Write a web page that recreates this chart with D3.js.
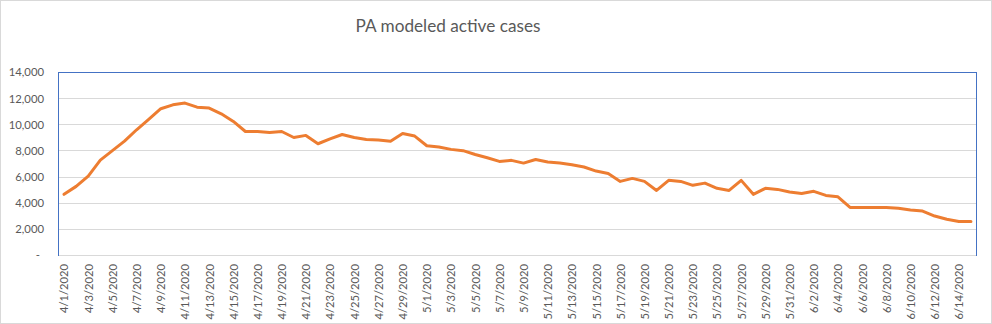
<!DOCTYPE html>
<html>
<head>
<meta charset="utf-8">
<script src="https://cdn.jsdelivr.net/npm/d3@7"></script>
<style>
  html, body { margin: 0; padding: 0; background: #fff; }
  svg { display: block; }
</style>
</head>
<body>
<svg id="chart" width="992" height="324"></svg>
<script>
const title = "PA modeled active cases";

const dates = [
  "4/1/2020","4/2/2020","4/3/2020","4/4/2020","4/5/2020","4/6/2020","4/7/2020","4/8/2020","4/9/2020","4/10/2020",
  "4/11/2020","4/12/2020","4/13/2020","4/14/2020","4/15/2020","4/16/2020","4/17/2020","4/18/2020","4/19/2020","4/20/2020",
  "4/21/2020","4/22/2020","4/23/2020","4/24/2020","4/25/2020","4/26/2020","4/27/2020","4/28/2020","4/29/2020","4/30/2020",
  "5/1/2020","5/2/2020","5/3/2020","5/4/2020","5/5/2020","5/6/2020","5/7/2020","5/8/2020","5/9/2020","5/10/2020",
  "5/11/2020","5/12/2020","5/13/2020","5/14/2020","5/15/2020","5/16/2020","5/17/2020","5/18/2020","5/19/2020","5/20/2020",
  "5/21/2020","5/22/2020","5/23/2020","5/24/2020","5/25/2020","5/26/2020","5/27/2020","5/28/2020","5/29/2020","5/30/2020",
  "5/31/2020","6/1/2020","6/2/2020","6/3/2020","6/4/2020","6/5/2020","6/6/2020","6/7/2020","6/8/2020","6/9/2020",
  "6/10/2020","6/11/2020","6/12/2020","6/13/2020","6/14/2020","6/15/2020"
];

const activeCases = [
  4640, 5250, 6040, 7260, 7980, 8710, 9580, 10370, 11190, 11490,
  11620, 11310, 11240, 10800, 10220, 9450, 9450, 9380, 9450, 8990,
  9150, 8510, 8890, 9220, 8990, 8840, 8790, 8710, 9300, 9100,
  8360, 8260, 8080, 7980, 7690, 7440, 7160, 7240, 7030, 7310,
  7110, 7030, 6900, 6730, 6420, 6240, 5630, 5860, 5630, 4940,
  5710, 5630, 5330, 5500, 5100, 4940, 5710, 4640, 5100, 5020,
  4820, 4710, 4870, 4560, 4450, 3640, 3640, 3640, 3640, 3570,
  3440, 3360, 2980, 2730, 2570, 2570
];

const yTicks = [0, 2000, 4000, 6000, 8000, 10000, 12000, 14000];
const yTickLabels = ["-", "2,000", "4,000", "6,000", "8,000", "10,000", "12,000", "14,000"];

const svg = d3.select("#chart");
const W = 992, H = 324;
const plot = { left: 58, top: 72, right: 977, bottom: 255 };
const font = "Lato, 'Open Sans', sans-serif";

// outer chart border
svg.append("rect")
  .attr("x", 0.5).attr("y", 0.5)
  .attr("width", W - 1).attr("height", H - 1)
  .attr("fill", "#fff").attr("stroke", "#d9d9d9").attr("stroke-width", 1);

const x = d3.scalePoint().domain(dates).range([plot.left, plot.right]).padding(0.5);
const y = d3.scaleLinear().domain([0, 14000]).range([plot.bottom, plot.top]);

// gridlines
svg.append("g").selectAll("line").data(yTicks.slice(1, -1)).join("line")
  .attr("x1", plot.left).attr("x2", plot.right)
  .attr("y1", d => Math.round(y(d)) + 0.5).attr("y2", d => Math.round(y(d)) + 0.5)
  .attr("stroke", "#d9d9d9").attr("stroke-width", 1);

// plot area border (blue)
svg.append("rect")
  .attr("x", plot.left + 0.5).attr("y", plot.top + 0.5)
  .attr("width", plot.right - plot.left - 1).attr("height", plot.bottom - plot.top)
  .attr("fill", "none").attr("stroke", "#4472c4").attr("stroke-width", 1);

// category axis line
svg.append("line")
  .attr("x1", plot.left + 1).attr("x2", plot.right - 1)
  .attr("y1", plot.bottom + 0.5).attr("y2", plot.bottom + 0.5)
  .attr("stroke", "#d9d9d9").attr("stroke-width", 1);

// y axis labels
const yAxis = d3.axisLeft(y).tickValues(yTicks)
  .tickFormat((d, i) => yTickLabels[i]).tickSize(0).tickPadding(0);
const yg = svg.append("g").attr("transform", `translate(${plot.left - 14},0)`).call(yAxis);
yg.select(".domain").remove();
yg.selectAll("text")
  .attr("fill", "#595959").style("font-family", font).style("font-size", "11.3px")
  .attr("dy", "0.35em")
  .attr("x", d => d === 0 ? -4 : 0);

// x axis labels (every other date)
const xAxis = d3.axisBottom(x)
  .tickValues(dates.filter((d, i) => i % 2 === 0))
  .tickSize(0).tickPadding(0);
const xg = svg.append("g").attr("transform", `translate(0,${plot.bottom})`).call(xAxis);
xg.select(".domain").remove();
xg.selectAll("text")
  .attr("fill", "#595959").style("font-family", font).style("font-size", "11.2px")
  .attr("text-anchor", "end")
  .attr("transform", "rotate(-90)")
  .attr("x", -9).attr("y", 0).attr("dy", "0.35em");

// line
const line = d3.line().x((d, i) => x(dates[i])).y(d => y(d));
svg.append("path").datum(activeCases)
  .attr("d", line)
  .attr("fill", "none")
  .attr("stroke", "#ed7d31")
  .attr("stroke-width", 3)
  .attr("stroke-linejoin", "round")
  .attr("stroke-linecap", "round");

// title
svg.append("text")
  .attr("x", 448).attr("y", 32)
  .attr("text-anchor", "middle")
  .attr("fill", "#595959")
  .style("font-family", font).style("font-size", "17.2px")
  .text(title);
</script>
</body>
</html>
